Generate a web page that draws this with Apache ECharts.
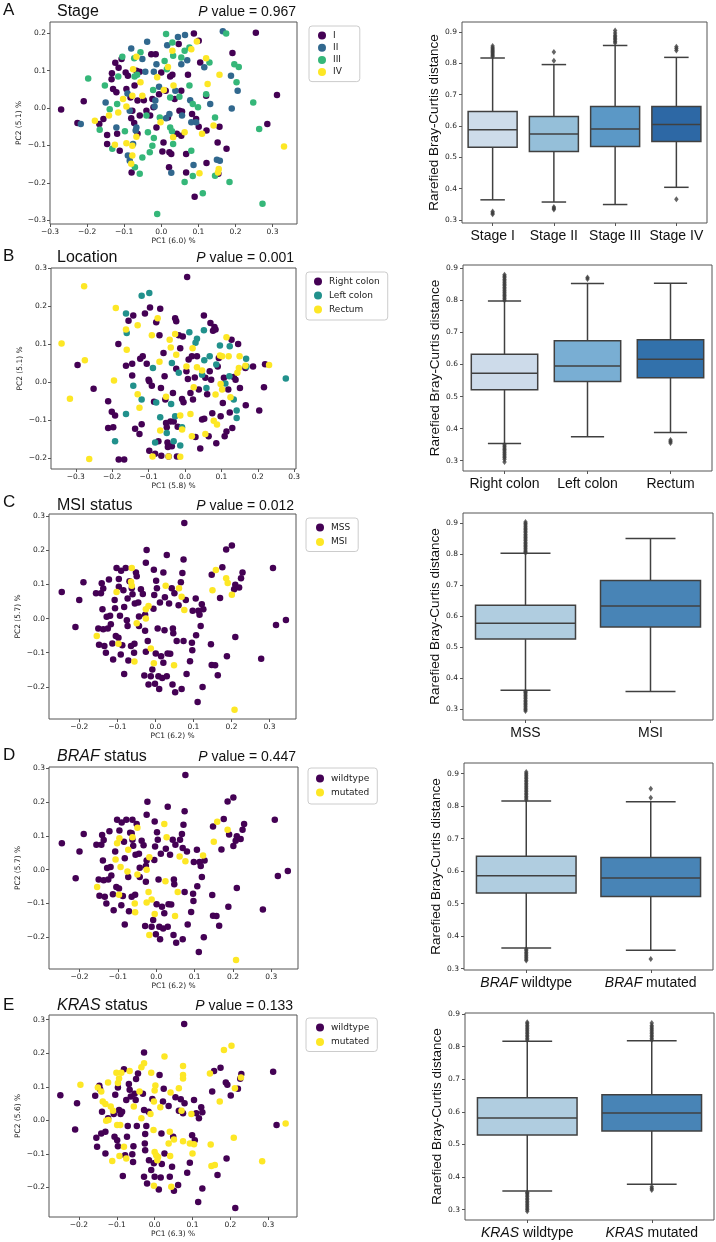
<!DOCTYPE html>
<html>
<head>
<meta charset="utf-8">
<script src="https://cdn.jsdelivr.net/npm/echarts@6/dist/echarts.min.js"></script>
<style>
html,body{margin:0;padding:0;background:#fff}
#chart{width:716px;height:1242px}
</style>
</head>
<body>
<div id="chart"></div>
<script>
// ---- panel text ----
var panelLetters = ['A', 'B', 'C', 'D', 'E'];
var panelTitles = ['Stage', 'Location', 'MSI status', '{i|BRAF} status', '{i|KRAS} status'];
var pValues = ['0.967', '0.001', '0.012', '0.447', '0.133'];
var pc1Labels = ['PC1 (6.0) %', 'PC1 (5.8) %', 'PC1 (6.2) %', 'PC1 (6.2) %', 'PC1 (6.3) %'];
var pc2Labels = ['PC2 (5.1) %', 'PC2 (5.1) %', 'PC2 (5.7) %', 'PC2 (5.7) %', 'PC2 (5.6) %'];

// ---- tick labels ----
var ticksA_x = [-0.3, -0.2, -0.1, 0, 0.1, 0.2, 0.3];
var ticksA_y = [-0.3, -0.2, -0.1, 0, 0.1, 0.2];
var ticksB_x = [-0.3, -0.2, -0.1, 0, 0.1, 0.2, 0.3];
var ticksB_y = [-0.2, -0.1, 0, 0.1, 0.2, 0.3];
var ticksCDE_x = [-0.2, -0.1, 0, 0.1, 0.2, 0.3];
var ticksCDE_y = [-0.2, -0.1, 0, 0.1, 0.2, 0.3];
var ticksBox = [0.3, 0.4, 0.5, 0.6, 0.7, 0.8, 0.9];

// ---- A: stage ----
var stageNames = ['I', 'II', 'III', 'IV'];
var stageI = [[-0.270,-0.004],[-0.226,-0.040],[-0.209,0.018],[-0.167,-0.043],[-0.156,-0.029],[-0.146,-0.072],[-0.146,-0.096],[-0.133,0.093],[-0.124,0.121],[-0.130,0.051],[-0.121,0.042],[-0.134,0.077],[-0.115,0.108],[-0.119,-0.069],[-0.112,-0.114],[-0.107,0.131],[-0.096,0.095],[-0.090,0.086],[-0.094,0.051],[-0.083,0.028],[-0.078,-0.007],[-0.081,-0.027],[-0.073,-0.040],[-0.080,-0.172],[-0.067,0.100],[-0.058,0.097],[-0.072,0.060],[-0.064,0.020],[-0.058,-0.020],[-0.064,-0.069],[-0.047,0.021],[-0.040,-0.007],[-0.027,0.144],[-0.015,0.144],[-0.024,0.024],[-0.030,-0.020],[-0.021,0.002],[-0.013,-0.052],[0.000,0.095],[-0.006,0.037],[0.006,-0.092],[0.003,-0.116],[0.012,0.046],[0.018,-0.025],[0.022,-0.118],[0.027,-0.123],[0.021,-0.158],[0.024,0.084],[0.030,0.089],[0.036,0.024],[0.047,0.171],[0.042,-0.069],[0.054,0.046],[0.049,-0.007],[0.056,-0.009],[0.054,-0.074],[0.067,-0.123],[0.072,0.089],[0.067,-0.172],[0.083,-0.016],[0.088,0.199],[0.090,-0.237],[0.094,-0.029],[0.101,0.180],[0.101,-0.050],[0.105,0.122],[0.121,0.033],[0.122,-0.060],[0.122,-0.147],[0.157,-0.050],[0.152,-0.092],[0.154,-0.176],[0.176,-0.109],[0.192,0.147],[0.255,0.201],[0.286,-0.043],[0.312,0.035]];
var stageII = [[-0.217,-0.043],[-0.150,0.015],[-0.121,-0.052],[-0.091,0.039],[-0.081,0.159],[-0.085,-0.007],[-0.090,-0.127],[-0.085,-0.141],[-0.076,-0.096],[-0.069,-0.060],[-0.067,-0.052],[-0.051,0.131],[-0.043,0.097],[-0.038,0.177],[-0.020,0.097],[-0.018,0.004],[-0.016,0.020],[-0.013,0.117],[-0.006,0.057],[0.016,0.168],[0.013,-0.027],[0.022,-0.016],[0.027,-0.173],[0.038,0.046],[0.045,0.190],[0.054,0.117],[0.056,-0.020],[0.064,0.195],[0.070,0.128],[0.078,0.021],[0.081,-0.038],[0.087,-0.152],[0.094,-0.038],[0.116,0.109],[0.132,0.011],[0.150,-0.138],[0.158,-0.141],[0.166,0.205],[0.190,-0.001],[0.188,0.086],[0.206,0.046]];
var stageIII = [[-0.197,0.079],[-0.166,-0.058],[-0.152,0.060],[-0.139,-0.003],[-0.132,-0.109],[-0.119,0.011],[-0.116,0.084],[-0.105,0.137],[-0.098,-0.062],[-0.073,0.133],[-0.072,0.084],[-0.071,-0.158],[-0.065,0.089],[-0.058,-0.176],[-0.056,0.149],[-0.051,-0.132],[-0.040,-0.020],[-0.036,-0.065],[-0.031,-0.118],[-0.024,-0.101],[-0.020,-0.080],[-0.022,0.048],[-0.011,-0.283],[-0.004,-0.025],[0.013,0.198],[0.009,0.126],[0.015,0.104],[0.024,0.028],[0.024,-0.052],[0.029,-0.062],[0.030,0.175],[0.032,0.140],[0.032,-0.096],[0.049,0.030],[0.054,0.135],[0.063,0.153],[0.063,-0.198],[0.076,0.060],[0.076,0.162],[0.081,-0.114],[0.085,0.011],[0.085,-0.182],[0.099,0.002],[0.112,-0.228],[0.121,0.037],[0.130,0.122],[0.145,-0.025],[0.145,-0.181],[0.175,0.199],[0.184,-0.198],[0.197,0.117],[0.203,0.069],[0.209,0.110],[0.248,0.015],[0.264,-0.056],[0.273,-0.256]];
var stageIV = [[-0.179,-0.034],[-0.141,-0.020],[-0.125,-0.098],[-0.116,-0.012],[-0.103,0.024],[-0.094,0.004],[-0.094,-0.094],[-0.078,0.033],[-0.076,0.104],[-0.078,-0.101],[-0.078,-0.127],[-0.081,-0.149],[-0.067,0.137],[-0.067,-0.077],[-0.056,0.069],[-0.051,0.033],[-0.011,0.082],[-0.002,-0.038],[0.007,0.048],[0.018,0.110],[0.030,0.153],[0.033,0.060],[0.032,-0.078],[0.063,-0.065],[0.081,0.157],[0.103,-0.174],[0.110,-0.069],[0.121,0.133],[0.125,0.064],[0.141,-0.047],[0.155,-0.163],[0.153,-0.172],[0.157,0.089],[0.331,-0.103],[0.096,0.178]];

// ---- B: location ----
var locNames = ['Right colon', 'Left colon', 'Rectum'];
var locRight = [[-0.295,0.045],[-0.251,-0.018],[-0.211,-0.051],[-0.211,-0.121],[-0.201,-0.078],[-0.192,-0.088],[-0.197,-0.119],[-0.183,0.100],[-0.182,-0.204],[-0.167,-0.204],[-0.162,0.043],[-0.155,0.161],[-0.145,0.017],[-0.142,0.175],[-0.145,0.048],[-0.137,-0.123],[-0.125,-0.137],[-0.119,-0.111],[-0.123,0.061],[-0.116,0.068],[-0.110,0.180],[-0.105,0.048],[-0.100,0.006],[-0.098,0.002],[-0.098,-0.181],[-0.096,0.196],[-0.091,-0.010],[-0.085,-0.052],[-0.082,-0.189],[-0.079,0.157],[-0.073,-0.156],[-0.070,0.123],[-0.068,0.193],[-0.066,-0.016],[-0.065,-0.194],[-0.059,0.076],[-0.056,0.015],[-0.054,-0.046],[-0.052,-0.108],[-0.050,-0.119],[-0.048,-0.159],[-0.047,-0.171],[-0.045,-0.196],[-0.040,-0.104],[-0.036,-0.169],[-0.033,-0.029],[-0.031,-0.104],[-0.027,0.168],[-0.024,0.160],[-0.024,0.035],[-0.022,-0.196],[-0.020,-0.118],[-0.017,0.123],[-0.013,0.089],[-0.008,-0.045],[-0.006,0.120],[-0.004,-0.053],[0.006,0.276],[0.004,0.028],[0.008,0.008],[0.010,0.059],[0.015,-0.029],[0.019,0.068],[0.022,-0.046],[0.027,0.012],[0.029,-0.145],[0.033,0.068],[0.038,-0.020],[0.042,-0.175],[0.047,-0.099],[0.052,0.175],[0.053,-0.097],[0.056,0.011],[0.061,-0.032],[0.065,-0.143],[0.068,0.028],[0.070,0.155],[0.072,0.006],[0.075,-0.082],[0.077,0.135],[0.081,0.145],[0.084,0.138],[0.086,-0.161],[0.090,0.041],[0.093,0.063],[0.098,-0.090],[0.104,-0.055],[0.109,-0.143],[0.114,-0.130],[0.119,-0.020],[0.123,-0.080],[0.128,0.111],[0.130,-0.121],[0.134,0.013],[0.139,0.006],[0.146,0.100],[0.151,-0.016],[0.167,-0.061],[0.166,0.037],[0.187,0.041],[0.204,-0.075],[0.217,-0.014],[0.220,0.047],[0.107,0.011]];
var locLeft = [[-0.192,-0.156],[-0.162,-0.084],[-0.162,0.180],[-0.160,0.129],[-0.142,-0.010],[-0.119,-0.046],[-0.119,0.227],[-0.098,0.234],[-0.088,0.037],[-0.082,-0.159],[-0.079,-0.054],[-0.068,-0.093],[-0.050,-0.134],[-0.038,-0.058],[-0.036,0.050],[-0.031,-0.156],[-0.027,-0.090],[-0.017,0.024],[-0.013,-0.167],[-0.008,-0.119],[0.012,0.131],[0.029,0.103],[0.033,0.114],[0.047,0.019],[0.052,0.136],[0.053,0.057],[0.059,-0.016],[0.068,0.068],[0.086,0.046],[0.096,0.096],[0.111,-0.004],[0.122,0.015],[0.123,0.094],[0.134,-0.046],[0.142,-0.075],[0.142,-0.095],[0.168,0.061],[0.169,0.041],[0.277,0.009]];
var locRectum = [[-0.339,0.101],[-0.316,-0.044],[-0.277,0.252],[-0.275,0.057],[-0.263,-0.203],[-0.195,0.004],[-0.190,0.195],[-0.162,0.138],[-0.160,0.085],[-0.130,0.149],[-0.130,-0.032],[-0.125,-0.068],[-0.091,0.123],[-0.089,-0.196],[-0.075,0.168],[-0.070,0.053],[-0.068,-0.128],[-0.052,-0.039],[-0.045,-0.196],[-0.042,0.111],[-0.039,0.091],[-0.027,0.126],[-0.024,0.072],[-0.013,-0.088],[-0.013,-0.197],[-0.008,-0.125],[0.004,0.041],[0.015,-0.084],[0.019,-0.143],[0.021,0.089],[0.024,-0.014],[0.033,0.039],[0.047,0.030],[0.056,-0.137],[0.079,-0.102],[0.084,-0.033],[0.088,-0.112],[0.096,0.070],[0.098,-0.005],[0.102,0.068],[0.102,-0.020],[0.114,0.118],[0.120,0.068],[0.125,-0.040],[0.144,0.024],[0.148,0.037],[0.150,0.068],[0.166,0.043],[0.231,0.045]];

// ---- C / D: same samples, columns: PC1, PC2, MSI (1 = MSI), BRAF (1 = mutated) ----
var msiNames = ['MSS', 'MSI'];
var brafNames = ['wildtype', 'mutated'];
var cdSamples = [
 [-0.246,0.078,0,0],[-0.200,0.054,0,0],[-0.189,0.106,0,0],[-0.210,-0.025,0,0],[-0.156,0.074,0,0],
 [-0.150,-0.029,0,0],[-0.148,-0.077,0,0],[-0.143,0.074,0,0],[-0.141,0.103,0,0],[-0.139,0.027,0,0],
 [-0.137,0.088,0,0],[-0.137,-0.031,0,0],[-0.134,-0.080,0,0],[-0.130,-0.100,0,0],[-0.128,0.005,0,0],
 [-0.125,-0.029,0,0],[-0.122,0.114,0,0],[-0.119,0.008,0,0],[-0.117,-0.017,0,0],[-0.113,-0.073,0,0],
 [-0.111,-0.120,0,0],[-0.107,0.054,0,0],[-0.106,0.030,0,1],[-0.102,0.148,0,0],[-0.104,-0.051,0,0],
 [-0.097,-0.056,0,0],[-0.096,0.116,0,0],[-0.093,0.008,0,1],[-0.090,0.140,0,0],[-0.091,-0.105,0,0],
 [-0.087,-0.078,0,0],[-0.084,0.083,0,0],[-0.082,0.034,0,0],[-0.082,-0.162,0,0],[-0.078,0.148,0,0],
 [-0.075,-0.005,0,1],[-0.073,0.059,0,1],[-0.073,-0.022,0,0],[-0.071,-0.123,0,0],[-0.068,0.109,0,0],
 [-0.064,-0.080,0,0],[-0.062,0.089,0,0],[-0.060,0.071,0,0],[-0.056,-0.100,0,1],[-0.055,-0.074,0,0],
 [-0.054,0.044,0,0],[-0.051,0.135,0,0],[-0.049,0.124,0,1],[-0.045,0.047,0,0],[-0.043,0.006,0,0],
 [-0.043,-0.022,0,0],[-0.038,0.086,0,0],[-0.033,0.072,0,0],[-0.029,-0.167,0,0],[-0.027,-0.036,0,0],
 [-0.027,0.011,0,0],[-0.025,0.163,0,0],[-0.025,-0.097,0,1],[-0.023,0.201,0,0],[-0.018,-0.193,0,1],
 [-0.020,-0.066,0,1],[-0.012,-0.169,0,0],[-0.008,-0.149,0,0],[-0.005,0.029,0,0],[-0.004,0.143,0,0],
 [-0.003,0.069,0,0],[-0.001,-0.191,0,0],[0.001,-0.102,0,0],[0.002,0.111,0,0],[0.004,0.089,0,0],
 [0.006,-0.029,0,0],[0.008,-0.169,0,0],[0.010,-0.206,0,0],[0.012,0.047,0,0],[0.015,-0.110,0,0],
 [0.018,-0.174,0,0],[0.021,0.135,0,1],[0.021,-0.129,0,0],[0.024,-0.034,0,1],[0.025,0.062,0,0],
 [0.030,0.186,0,0],[0.030,-0.169,0,0],[0.032,-0.102,0,0],[0.036,0.044,0,0],[0.039,-0.103,0,0],
 [0.043,0.089,0,0],[0.045,-0.193,0,0],[0.046,-0.029,0,0],[0.047,-0.043,0,0],[0.050,0.074,0,0],
 [0.052,-0.216,0,0],[0.056,-0.066,0,1],[0.061,0.039,0,1],[0.067,0.106,0,0],[0.069,-0.206,0,0],
 [0.071,0.133,0,0],[0.074,0.173,0,0],[0.074,-0.066,0,0],[0.076,0.280,0,0],[0.080,0.054,0,0],
 [0.082,-0.162,0,0],[0.091,-0.125,0,0],[0.096,-0.071,0,0],[0.097,-0.093,0,0],[0.098,0.023,0,0],
 [0.106,0.059,0,0],[0.107,-0.049,0,0],[0.111,-0.244,0,0],[0.113,0.023,0,0],[0.116,0.011,0,0],
 [0.119,-0.022,0,0],[0.122,0.042,0,1],[0.124,-0.200,0,0],[0.126,0.027,0,0],[0.146,-0.075,0,0],
 [0.148,0.128,0,0],[0.148,-0.136,0,0],[0.157,-0.137,0,0],[0.164,-0.166,0,0],[0.170,0.060,0,0],
 [0.176,0.150,0,0],[0.186,0.202,0,0],[0.188,-0.110,0,0],[0.201,0.214,0,0],[0.207,0.086,0,0],
 [0.210,0.099,0,0],[0.210,-0.054,0,0],[0.220,0.091,0,0],[0.225,0.118,0,0],[0.229,0.135,0,0],
 [0.278,-0.118,0,0],[0.309,0.148,0,0],[0.317,-0.019,0,0],[0.343,-0.004,0,0],[-0.096,0.093,0,1],
 [-0.154,-0.051,1,1],[-0.102,0.078,1,1],[-0.097,-0.074,1,1],[-0.062,0.148,1,0],[-0.064,0.108,1,0],
 [-0.062,0.096,1,1],[-0.055,-0.126,1,1],[-0.049,-0.014,1,1],[-0.025,0.027,1,0],[-0.018,0.037,1,1],
 [-0.025,0.000,1,1],[-0.012,-0.088,1,1],[-0.004,-0.131,1,1],[0.027,0.096,1,1],[0.049,-0.137,1,1],
 [0.062,0.089,1,0],[0.069,0.064,1,0],[0.076,0.025,1,1],[0.150,0.083,1,1],[0.159,0.142,1,1],
 [0.186,0.118,1,1],[0.190,0.104,1,0],[0.201,0.070,1,0],[0.208,-0.267,1,1]
];

// ---- E: KRAS ----
var krasNames = ['wildtype', 'mutated'];
var krasWild = [[-0.249,0.075],[-0.205,0.051],[-0.210,-0.027],[-0.157,0.073],[-0.154,-0.052],[-0.152,-0.079],[-0.146,0.103],[-0.144,0.093],[-0.141,-0.039],[-0.139,0.026],[-0.130,-0.034],[-0.130,-0.099],[-0.123,0.006],[-0.108,0.019],[-0.106,-0.049],[-0.104,0.076],[-0.099,-0.059],[-0.097,0.098],[-0.097,-0.077],[-0.094,0.031],[-0.090,0.019],[-0.086,0.026],[-0.084,-0.166],[-0.081,0.152],[-0.078,-0.104],[-0.075,0.061],[-0.073,-0.049],[-0.071,-0.017],[-0.068,0.108],[-0.066,0.091],[-0.063,0.071],[-0.059,-0.101],[-0.057,-0.124],[-0.056,-0.077],[-0.053,0.079],[-0.050,0.061],[-0.049,0.123],[-0.047,-0.017],[-0.044,0.140],[-0.031,0.079],[-0.028,0.202],[-0.028,0.031],[-0.026,-0.069],[-0.025,-0.041],[-0.025,-0.089],[-0.028,-0.168],[-0.022,-0.017],[-0.020,-0.188],[-0.016,0.026],[-0.015,-0.119],[-0.009,-0.148],[-0.006,0.064],[-0.002,-0.128],[0.000,-0.168],[0.011,-0.206],[0.013,0.135],[0.016,-0.170],[0.018,-0.039],[0.019,-0.130],[0.022,0.056],[0.024,0.094],[0.026,-0.099],[0.037,0.043],[0.040,-0.168],[0.046,-0.138],[0.049,-0.049],[0.051,-0.210],[0.055,0.069],[0.062,-0.193],[0.064,0.029],[0.069,0.063],[0.075,0.021],[0.078,0.287],[0.079,0.051],[0.086,-0.156],[0.093,-0.126],[0.099,-0.044],[0.104,0.061],[0.106,-0.059],[0.110,0.021],[0.115,-0.243],[0.117,0.006],[0.123,0.039],[0.126,0.024],[0.126,-0.203],[0.152,0.086],[0.157,0.147],[0.166,-0.163],[0.174,0.157],[0.188,0.113],[0.192,0.106],[0.190,-0.114],[0.201,0.074],[0.213,-0.261],[0.220,0.094],[0.226,0.124],[0.229,0.138],[0.313,0.145],[0.322,-0.014]];
var krasMut = [[-0.196,0.106],[-0.150,0.098],[-0.141,0.086],[-0.137,0.056],[-0.130,0.049],[-0.128,-0.001],[-0.123,0.113],[-0.122,0.001],[-0.116,0.041],[-0.112,-0.121],[-0.110,0.029],[-0.101,0.142],[-0.099,-0.014],[-0.097,0.111],[-0.094,0.125],[-0.093,-0.106],[-0.091,-0.014],[-0.088,0.142],[-0.081,-0.079],[-0.075,-0.114],[-0.066,0.147],[-0.055,0.041],[-0.040,0.086],[-0.035,0.158],[-0.035,0.006],[-0.028,0.170],[-0.011,0.019],[-0.009,0.142],[-0.003,-0.029],[-0.002,0.056],[0.000,0.089],[0.002,0.104],[0.000,-0.094],[0.004,-0.104],[0.007,-0.119],[0.009,-0.109],[-0.002,-0.195],[0.015,0.039],[0.026,0.190],[0.037,-0.069],[0.040,-0.034],[0.041,-0.106],[0.042,0.083],[0.044,-0.198],[0.051,-0.057],[0.064,0.096],[0.075,0.162],[0.075,0.135],[0.075,0.125],[0.075,-0.062],[0.071,0.029],[0.097,0.019],[0.093,-0.069],[0.104,-0.071],[0.100,-0.099],[0.146,0.140],[0.148,-0.072],[0.150,-0.136],[0.159,-0.133],[0.172,0.056],[0.183,0.210],[0.203,0.222],[0.209,-0.052],[0.212,0.096],[0.228,0.128],[0.284,-0.122],[0.346,-0.009]];

// ---- box plots: [lower whisker, Q1, median, Q3, upper whisker] ----
var stageCats = ['Stage I', 'Stage II', 'Stage III', 'Stage IV'];
var stageBox = [[0.364,0.532,0.588,0.646,0.817],[0.357,0.518,0.574,0.630,0.796],[0.349,0.534,0.590,0.662,0.857],[0.404,0.550,0.605,0.662,0.819]];
var stageOut = [[0.822,0.826,0.830,0.834,0.838,0.842,0.846,0.850,0.855,0.318,0.322,0.327],[0.808,0.836,0.333,0.337,0.341],[0.865,0.870,0.875,0.880,0.885,0.890,0.897,0.905],[0.841,0.847,0.853,0.366]];
var locCats = ['Right colon', 'Left colon', 'Rectum'];
var locBox = [[0.354,0.521,0.573,0.632,0.798],[0.375,0.547,0.595,0.674,0.852],[0.388,0.559,0.616,0.677,0.853]];
var locOut = [[0.800,0.805,0.810,0.815,0.820,0.825,0.830,0.835,0.840,0.845,0.850,0.855,0.860,0.865,0.870,0.875,0.880,0.296,0.305,0.310,0.315,0.320,0.325,0.330,0.335,0.340,0.345,0.350],[0.866,0.871],[0.355,0.360,0.365]];
var msiCats = ['MSS', 'MSI'];
var msiBox = [[0.362,0.527,0.578,0.636,0.804],[0.358,0.566,0.634,0.716,0.852]];
var msiOut = [[0.806,0.810,0.815,0.820,0.825,0.830,0.835,0.840,0.845,0.850,0.855,0.860,0.865,0.870,0.875,0.880,0.885,0.890,0.895,0.900,0.905,0.295,0.300,0.305,0.310,0.315,0.320,0.325,0.330,0.335,0.340,0.345,0.350,0.355,0.358],[]];
var brafCats = ['BRAF wildtype', 'BRAF mutated'];
var brafBox = [[0.364,0.533,0.586,0.646,0.816],[0.357,0.522,0.579,0.642,0.814]];
var brafOut = [[0.820,0.825,0.830,0.835,0.840,0.845,0.850,0.855,0.860,0.865,0.870,0.875,0.880,0.885,0.890,0.895,0.900,0.905,0.325,0.330,0.335,0.340,0.345,0.350,0.355,0.360],[0.826,0.854,0.330]];
var krasCats = ['KRAS wildtype', 'KRAS mutated'];
var krasBox = [[0.357,0.529,0.581,0.643,0.816],[0.378,0.541,0.596,0.652,0.818]];
var krasOut = [[0.820,0.825,0.830,0.835,0.840,0.845,0.850,0.855,0.860,0.865,0.870,0.875,0.295,0.300,0.305,0.310,0.315,0.320,0.325,0.330,0.335,0.340,0.345,0.350,0.352],[0.820,0.825,0.830,0.835,0.840,0.845,0.850,0.855,0.860,0.865,0.872,0.360,0.365,0.370]];

// ---- styles ----
var viridis4 = ['#440154', '#31688e', '#35b779', '#fde725'];
var viridis3 = ['#440154', '#21918c', '#fde725'];
var viridis2 = ['#440154', '#fde725'];
var blues4 = ['#cddcea', '#95bfd9', '#5b98c6', '#2d68a5'];
var blues3 = ['#cddbea', '#79aed3', '#3271ab'];
var blues2 = ['#b0cde0', '#4884b6'];
var lineGray = '#404040';
var frameGray = '#555';
var sansTitle = 'Liberation Sans, Arial, sans-serif';
var sansTick = 'DejaVu Sans, sans-serif';

function pick(rows, col, val) {
  return rows.filter(function (r) { return r[col] === val; }).map(function (r) { return [r[0], r[1]]; });
}

var grids = [], xAxes = [], yAxes = [], series = [], legends = [], graphics = [];

function fmt(v) {
  var s = Math.abs(v).toFixed(1);
  return v < -1e-9 ? '\u2212' + s : s;
}

function italicize(v) {
  return v.replace(/^(BRAF|KRAS) /, '{i|$1} ');
}

function addScatter(p) {
  var gi = grids.length;
  grids.push({left: p.box[0], top: p.box[1], width: p.box[2], height: p.box[3], show: true,
    borderColor: frameGray, borderWidth: 1, backgroundColor: 'transparent'});
  xAxes.push({gridIndex: gi, type: 'value', min: p.xr[0], max: p.xr[1],
    name: p.xName, nameLocation: 'middle', nameGap: 11,
    nameTextStyle: {fontSize: 7.5, fontFamily: sansTick, color: '#222'},
    axisLine: {show: false, onZero: false}, splitLine: {show: false},
    axisTick: {show: true, length: 3, customValues: p.xt, lineStyle: {color: frameGray}},
    axisLabel: {customValues: p.xt, formatter: fmt, fontSize: 7.5, fontFamily: sansTick, color: '#222', margin: 4}});
  yAxes.push({gridIndex: gi, type: 'value', min: p.yr[0], max: p.yr[1],
    name: p.yName, nameLocation: 'middle', nameGap: 27,
    nameTextStyle: {fontSize: 7.5, fontFamily: sansTick, color: '#222'},
    axisLine: {show: false, onZero: false}, splitLine: {show: false},
    axisTick: {show: true, length: 3, customValues: p.yt, lineStyle: {color: frameGray}},
    axisLabel: {customValues: p.yt, formatter: fmt, fontSize: 7.5, fontFamily: sansTick, color: '#222', margin: 4}});
  p.groups.forEach(function (g, k) {
    series.push({type: 'scatter', name: g.name, xAxisIndex: gi, yAxisIndex: gi, data: g.data,
      symbol: 'circle', symbolSize: 6.5, itemStyle: {color: p.colors[k], opacity: 1}, silent: true});
  });
  legends.push({left: p.lg[0], top: p.lg[1], orient: 'vertical', selectedMode: false,
    data: p.groups.map(function (g) { return g.name; }),
    icon: 'circle', itemWidth: 8, itemHeight: 8, itemGap: p.lgGap,
    padding: p.lgPad, borderColor: '#ccc', borderWidth: 1, borderRadius: 3,
    backgroundColor: '#fff',
    textStyle: {fontSize: 9, lineHeight: 8, fontFamily: sansTick, color: '#222', padding: [0, 0, 0, 2]}});
}

function renderBox(params, api) {
  var i = api.value(0);
  var lo = api.coord([i, api.value(1)]);
  var q1 = api.coord([i, api.value(2)]);
  var md = api.coord([i, api.value(3)]);
  var q3 = api.coord([i, api.value(4)]);
  var hi = api.coord([i, api.value(5)]);
  var bw = api.size([1, 0])[0] * 0.8;
  var cx = q1[0];
  var st = {stroke: lineGray, lineWidth: 1.5};
  return {type: 'group', children: [
    {type: 'line', shape: {x1: cx, y1: hi[1], x2: cx, y2: q3[1]}, style: st},
    {type: 'line', shape: {x1: cx, y1: q1[1], x2: cx, y2: lo[1]}, style: st},
    {type: 'line', shape: {x1: cx - bw / 4, y1: hi[1], x2: cx + bw / 4, y2: hi[1]}, style: st},
    {type: 'line', shape: {x1: cx - bw / 4, y1: lo[1], x2: cx + bw / 4, y2: lo[1]}, style: st},
    {type: 'rect', shape: {x: cx - bw / 2, y: q3[1], width: bw, height: q1[1] - q3[1]},
      style: {fill: api.visual('color'), stroke: lineGray, lineWidth: 1.5}},
    {type: 'line', shape: {x1: cx - bw / 2, y1: md[1], x2: cx + bw / 2, y2: md[1]}, style: st}
  ]};
}

function addBox(p) {
  var gi = grids.length;
  grids.push({left: p.box[0], top: p.box[1], width: p.box[2], height: p.box[3], show: true,
    borderColor: frameGray, borderWidth: 1, backgroundColor: 'transparent'});
  xAxes.push({gridIndex: gi, type: 'category', data: p.cats,
    axisLine: {show: false, onZero: false}, splitLine: {show: false},
    axisTick: {show: true, alignWithLabel: true, length: 3, lineStyle: {color: frameGray}},
    axisLabel: {interval: 0, formatter: italicize, fontSize: 14, fontFamily: sansTitle, color: '#111', margin: 6,
      rich: {i: {fontStyle: 'italic', fontSize: 14, fontFamily: sansTitle, color: '#111'}}}});
  yAxes.push({gridIndex: gi, type: 'value', min: p.yr[0], max: p.yr[1],
    name: 'Rarefied Bray-Curtis distance', nameLocation: 'middle', nameGap: 17,
    nameTextStyle: {fontSize: 13.5, fontFamily: sansTitle, color: '#111'},
    axisLine: {show: false, onZero: false}, splitLine: {show: false},
    axisTick: {show: true, length: 3, customValues: ticksBox, lineStyle: {color: frameGray}},
    axisLabel: {customValues: ticksBox, formatter: fmt, fontSize: 7.5, fontFamily: sansTick, color: '#222', margin: 5}});
  series.push({type: 'custom', xAxisIndex: gi, yAxisIndex: gi, renderItem: renderBox, silent: true,
    encode: {x: 0, y: [1, 2, 3, 4, 5]},
    data: p.stats.map(function (b, i) { return {value: [i].concat(b), itemStyle: {color: p.colors[i]}}; })});
  var pts = [];
  p.out.forEach(function (arr, i) { arr.forEach(function (v) { pts.push([i, v]); }); });
  series.push({type: 'scatter', xAxisIndex: gi, yAxisIndex: gi, data: pts, silent: true,
    symbol: 'diamond', symbolSize: [4.5, 6], itemStyle: {color: '#3d3d3d'}});
}

// ---- layout ----
addScatter({box: [50, 22, 247, 202], xr: [-0.300, 0.366], yr: [-0.310, 0.230], xt: ticksA_x, yt: ticksA_y,
  xName: pc1Labels[0], yName: pc2Labels[0], colors: viridis4,
  groups: [{name: stageNames[0], data: stageI}, {name: stageNames[1], data: stageII}, {name: stageNames[2], data: stageIII}, {name: stageNames[3], data: stageIV}],
  lg: [309, 26], lgGap: 3.2, lgPad: [5, 18, 5, 9]});
addBox({box: [462, 22, 245, 201], yr: [0.290, 0.932], cats: stageCats, stats: stageBox, out: stageOut, colors: blues4});

addScatter({box: [51, 268, 245, 201], xr: [-0.368, 0.305], yr: [-0.229, 0.300], xt: ticksB_x, yt: ticksB_y,
  xName: pc1Labels[1], yName: pc2Labels[1], colors: viridis3,
  groups: [{name: locNames[0], data: locRight}, {name: locNames[1], data: locLeft}, {name: locNames[2], data: locRectum}],
  lg: [306, 272], lgGap: 5, lgPad: [5, 8, 6, 8]});
addBox({box: [463, 265, 249, 206], yr: [0.268, 0.910], cats: locCats, stats: locBox, out: locOut, colors: blues3});

addScatter({box: [49, 514, 247, 205], xr: [-0.2795, 0.3695], yr: [-0.294, 0.306], xt: ticksCDE_x, yt: ticksCDE_y,
  xName: pc1Labels[2], yName: pc2Labels[2], colors: viridis2,
  groups: [{name: msiNames[0], data: pick(cdSamples, 2, 0)}, {name: msiNames[1], data: pick(cdSamples, 2, 1)}],
  lg: [306, 518], lgGap: 5.5, lgPad: [5, 8, 5, 10]});
addBox({box: [463, 513, 250, 207], yr: [0.266, 0.934], cats: msiCats, stats: msiBox, out: msiOut, colors: blues2});

addScatter({box: [49, 767, 249, 202], xr: [-0.2795, 0.3695], yr: [-0.294, 0.304], xt: ticksCDE_x, yt: ticksCDE_y,
  xName: pc1Labels[3], yName: pc2Labels[3], colors: viridis2,
  groups: [{name: brafNames[0], data: pick(cdSamples, 3, 0)}, {name: brafNames[1], data: pick(cdSamples, 3, 1)}],
  lg: [308, 768], lgGap: 5, lgPad: [6, 8, 7, 8]});
addBox({box: [464, 763, 249, 207], yr: [0.296, 0.933], cats: brafCats, stats: brafBox, out: brafOut, colors: blues2});

addScatter({box: [49, 1015, 248, 202], xr: [-0.279, 0.376], yr: [-0.288, 0.314], xt: ticksCDE_x, yt: ticksCDE_y,
  xName: pc1Labels[4], yName: pc2Labels[4], colors: viridis2,
  groups: [{name: krasNames[0], data: krasWild}, {name: krasNames[1], data: krasMut}],
  lg: [306, 1018], lgGap: 5.5, lgPad: [5, 8, 5, 10]});
addBox({box: [465, 1013, 249, 207], yr: [0.268, 0.903], cats: krasCats, stats: krasBox, out: krasOut, colors: blues2});

// panel letters, titles, p values
var letterY = [10, 256, 502, 755, 1005];
var titleY = [12, 258, 506, 757, 1006];
var pRight = [296, 294, 294, 296, 293];
for (var k = 0; k < 5; k++) {
  graphics.push({type: 'text', x: 3, y: letterY[k], silent: true,
    style: {text: panelLetters[k], fontSize: 17, fontFamily: sansTitle, fill: '#111', verticalAlign: 'middle'}});
  graphics.push({type: 'text', x: 57, y: titleY[k], silent: true,
    style: {text: panelTitles[k], fontSize: 16, fontFamily: sansTitle, fill: '#111', verticalAlign: 'middle',
      rich: {i: {fontStyle: 'italic', fontSize: 16, fontFamily: sansTitle, fill: '#111'}}}});
  graphics.push({type: 'text', x: pRight[k], y: titleY[k], silent: true,
    style: {text: '{i|P} value = ' + pValues[k], fontSize: 14, fontFamily: sansTitle, fill: '#111',
      align: 'right', verticalAlign: 'middle',
      rich: {i: {fontStyle: 'italic', fontSize: 14, fontFamily: sansTitle, fill: '#111'}}}});
}

var chart = echarts.init(document.getElementById('chart'));
chart.setOption({
  animation: false,
  backgroundColor: '#fff',
  grid: grids,
  xAxis: xAxes,
  yAxis: yAxes,
  legend: legends,
  series: series,
  graphic: graphics
});
</script>
</body>
</html>
